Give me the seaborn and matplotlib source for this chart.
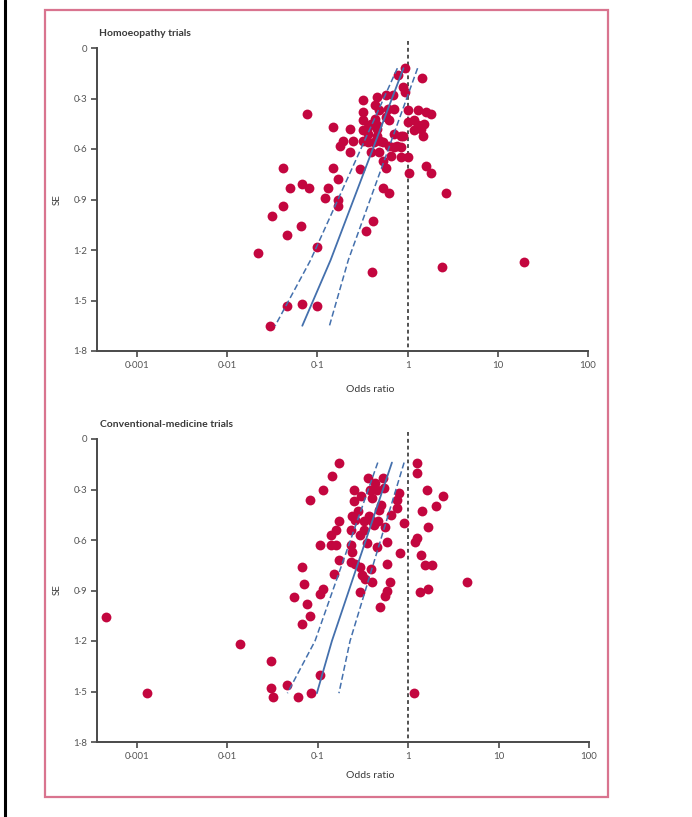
import numpy as np
import pandas as pd
import matplotlib
matplotlib.use("Agg")
import matplotlib.pyplot as plt
from matplotlib.patches import Rectangle
from matplotlib.lines import Line2D
import seaborn as sns

# homoeopathy trials (odds ratio, standard error)
homeo_or = [0.93, 0.79, 1.43, 0.90, 0.93, 0.46, 0.57, 0.68, 0.32, 0.077,
            0.44, 0.48, 0.60, 0.70, 0.32, 1.0, 1.29, 1.58, 1.80, 0.32,
            0.36, 0.39, 0.44, 0.46, 0.57, 0.62, 1.0, 1.17, 1.29, 1.51,
            0.15, 0.23, 0.32, 0.36, 0.46, 0.46, 0.50, 0.70, 0.84, 0.90,
            1.17, 1.47, 1.39, 0.19, 0.18, 0.25, 0.32, 0.36, 0.42, 0.54,
            0.62, 0.70, 0.77, 0.84, 0.23, 0.39, 0.48, 0.65, 0.84, 1.0,
            0.54, 0.57, 0.15, 0.042, 0.30, 1.03, 1.58, 1.80, 0.050, 0.068,
            0.081, 0.13, 0.17, 0.54, 0.62, 2.64, 0.12, 0.17, 0.17, 0.042,
            0.031, 0.065, 0.046, 0.41, 0.35, 0.10, 0.022, 0.40, 2.39, 19.4,
            0.046, 0.068, 0.10, 0.030]
homeo_se = [0.12, 0.16, 0.18, 0.23, 0.26, 0.29, 0.28, 0.28, 0.31, 0.39,
            0.34, 0.37, 0.36, 0.36, 0.38, 0.37, 0.37, 0.38, 0.39, 0.43,
            0.47, 0.45, 0.42, 0.46, 0.41, 0.43, 0.44, 0.43, 0.46, 0.45,
            0.47, 0.48, 0.49, 0.51, 0.48, 0.52, 0.55, 0.51, 0.52, 0.52,
            0.49, 0.52, 0.48, 0.55, 0.58, 0.55, 0.55, 0.56, 0.56, 0.56,
            0.58, 0.59, 0.58, 0.59, 0.62, 0.62, 0.62, 0.64, 0.65, 0.65,
            0.67, 0.71, 0.71, 0.71, 0.72, 0.74, 0.70, 0.74, 0.83, 0.81,
            0.83, 0.83, 0.78, 0.83, 0.86, 0.86, 0.89, 0.90, 0.94, 0.94,
            1.00, 1.06, 1.11, 1.03, 1.09, 1.18, 1.22, 1.33, 1.30, 1.27,
            1.53, 1.52, 1.53, 1.65]

# conventional-medicine trials
conv_or = [0.171, 0.143, 0.114, 0.082, 1.26, 1.26, 0.36, 0.43, 0.53, 0.54,
           0.38, 0.45, 0.25, 0.79, 1.63, 2.45, 0.25, 0.30, 0.40, 0.50,
           0.75, 0.75, 2.05, 1.43, 0.28, 0.48, 0.65, 0.24, 0.26, 0.37,
           0.40, 0.42, 0.46, 0.17, 0.16, 0.23, 0.32, 0.32, 0.56, 0.90,
           1.67, 0.14, 0.29, 0.105, 0.14, 0.16, 0.23, 0.24, 0.35, 0.45,
           0.58, 0.81, 1.20, 1.26, 1.39, 0.17, 0.23, 0.26, 0.29, 0.066,
           0.58, 0.39, 1.54, 1.85, 0.15, 0.31, 0.33, 0.40, 0.63, 0.070,
           0.114, 0.105, 0.29, 0.58, 0.56, 1.36, 1.67, 4.5, 0.055, 0.075,
           0.49, 0.082, 0.066, 0.00045, 0.0013, 0.0136, 0.030, 0.030, 0.032, 0.046,
           0.061, 0.084, 0.105, 1.17]
conv_se = [0.14, 0.22, 0.30, 0.36, 0.14, 0.20, 0.23, 0.26, 0.23, 0.29,
           0.30, 0.30, 0.30, 0.32, 0.30, 0.34, 0.37, 0.34, 0.35, 0.39,
           0.36, 0.41, 0.40, 0.43, 0.43, 0.42, 0.45, 0.46, 0.48, 0.46,
           0.49, 0.51, 0.49, 0.49, 0.54, 0.54, 0.49, 0.54, 0.52, 0.50,
           0.52, 0.57, 0.57, 0.63, 0.63, 0.63, 0.63, 0.67, 0.62, 0.64,
           0.61, 0.68, 0.61, 0.59, 0.69, 0.72, 0.73, 0.74, 0.76, 0.76,
           0.74, 0.77, 0.75, 0.75, 0.80, 0.81, 0.83, 0.85, 0.85, 0.86,
           0.89, 0.92, 0.91, 0.90, 0.93, 0.91, 0.89, 0.85, 0.94, 0.98,
           1.00, 1.05, 1.10, 1.06, 1.51, 1.22, 1.32, 1.48, 1.53, 1.46,
           1.53, 1.51, 1.40, 1.51]

# fitted line (solid) and its limits (dashed): SE and odds ratio
homeo_line_se = [0.12, 1.26, 1.65]
homeo_fit_or = [0.90, 0.14, 0.068]
homeo_lo_or = [0.77, 0.084, 0.034]
homeo_hi_or = [1.29, 0.22, 0.136]
conv_line_se = [0.14, 1.20, 1.51]
conv_fit_or = [0.66, 0.143, 0.0975]
conv_lo_or = [0.46, 0.093, 0.046]
conv_hi_or = [0.90, 0.227, 0.171]

x_ticks = [0.001, 0.01, 0.1, 1, 10, 100]
x_tick_labels = ["0·001", "0·01", "0·1", "1", "10", "100"]
y_ticks = [0, 0.3, 0.6, 0.9, 1.2, 1.5, 1.8]
y_tick_labels = ["0", "0·3", "0·6", "0·9", "1·2", "1·5", "1·8"]

dot_red = "#c3063f"
line_blue = "#4470ad"
axis_grey = "#4a4a4a"
text_grey = "#555555"

W, H = 692, 817


def draw_panel(ax, odds, se, line_se, fit_or, lo_or, hi_or):
  ax.set_xscale("log")
  df = pd.DataFrame({"odds": odds, "se": se})
  sns.scatterplot(data=df, x="odds", y="se", ax=ax, color=dot_red, s=50,
                  linewidth=0, zorder=3)
  ax.plot(fit_or, line_se, color=line_blue, lw=1.3, zorder=4)
  ax.plot(lo_or, line_se, color=line_blue, lw=1.1, ls=(0, (4, 2)), zorder=4)
  ax.plot(hi_or, line_se, color=line_blue, lw=1.1, ls=(0, (4, 2)), zorder=4)
  ax.plot([1, 1], [-0.04, 1.8], color="#222222", lw=1.1, ls=(0, (2.5, 2)),
          clip_on=False, zorder=2)
  ax.set_xlim(0.00036, 100)
  ax.set_ylim(1.8, 0)
  ax.set_xticks(x_ticks)
  ax.set_xticklabels(x_tick_labels)
  ax.minorticks_off()
  ax.set_yticks(y_ticks)
  ax.set_yticklabels(y_tick_labels)
  ax.set_xlabel("")
  ax.set_ylabel("")
  sns.despine(ax=ax)
  for s in ["left", "bottom"]:
    ax.spines[s].set_color(axis_grey)
    ax.spines[s].set_linewidth(1.4)
  ax.tick_params(bottom=True, left=True, direction="out", length=4, width=1.2,
                 color=axis_grey, labelsize=7, labelcolor=text_grey)
  ax.tick_params(axis="y", pad=3)
  ax.tick_params(axis="x", pad=3)


def plotGraphs():
  sns.set_style("white")
  plt.rcParams["font.family"] = ["Lato", "DejaVu Sans"]

  fig = plt.figure(figsize=(W / 100, H / 100), dpi=100)

  # pink frame and the black page edge
  fig.patches.append(Rectangle((45 / W, 1 - 797 / H), 563 / W, 787 / H,
                               transform=fig.transFigure, fill=False,
                               edgecolor="#d9748f", lw=1.6))
  fig.lines.append(Line2D([5 / W, 5 / W], [0, 1], transform=fig.transFigure,
                          color="black", lw=2.2))

  ax1 = fig.add_axes([97 / W, 1 - 351 / H, 491 / W, 303 / H])
  draw_panel(ax1, homeo_or, homeo_se, homeo_line_se, homeo_fit_or,
             homeo_lo_or, homeo_hi_or)
  ax2 = fig.add_axes([97 / W, 1 - 742 / H, 492 / W, 303 / H])
  draw_panel(ax2, conv_or, conv_se, conv_line_se, conv_fit_or,
             conv_lo_or, conv_hi_or)

  # titles and axis labels
  fig.text(99 / W, 1 - 33 / H, "Homoeopathy trials", fontsize=7.5,
           fontweight="bold", color="#3a3a3a", va="center")
  fig.text(100 / W, 1 - 424 / H, "Conventional-medicine trials", fontsize=7.5,
           fontweight="bold", color="#3a3a3a", va="center")
  fig.text(57 / W, 1 - 200 / H, "SE", fontsize=7, rotation=90,
           color="#3a3a3a", ha="center", va="center")
  fig.text(57 / W, 1 - 590 / H, "SE", fontsize=7, rotation=90,
           color="#3a3a3a", ha="center", va="center")
  fig.text(370 / W, 1 - 389 / H, "Odds ratio", fontsize=7.5,
           color="#3a3a3a", ha="center", va="center")
  fig.text(370 / W, 1 - 775 / H, "Odds ratio", fontsize=7.5,
           color="#3a3a3a", ha="center", va="center")

  fig.savefig("out.png", dpi=100)


if __name__ == "__main__":
  plotGraphs()
